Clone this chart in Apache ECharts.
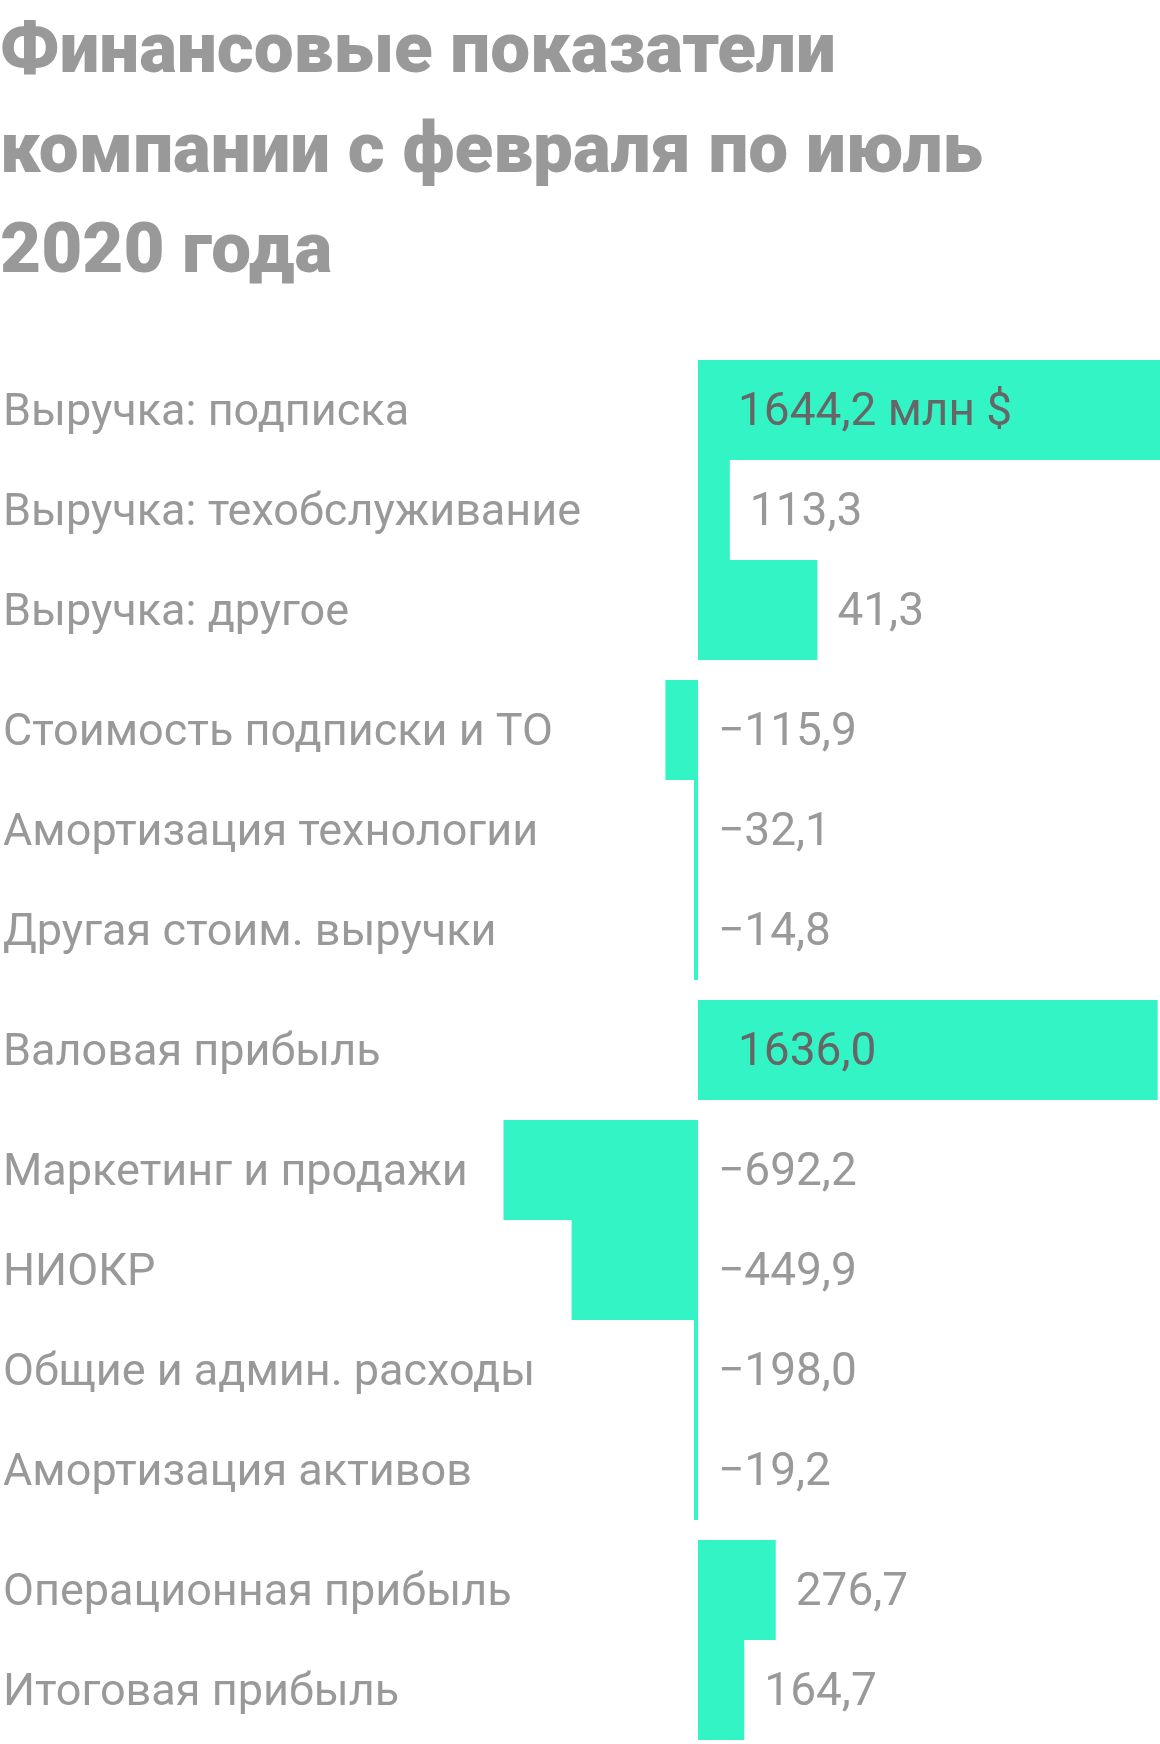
<!DOCTYPE html>
<html>
<head>
<meta charset="utf-8">
<script src="https://cdn.jsdelivr.net/npm/echarts@6/dist/echarts.min.js"></script>
<style>
  html, body { margin: 0; padding: 0; background: #fff; }
  #chart { width: 1160px; height: 1744px; }
</style>
</head>
<body>
<div id="chart"></div>
<script>
// rows, top to bottom
const categories = [
  'Выручка: подписка',
  'Выручка: техобслуживание',
  'Выручка: другое',
  'Стоимость подписки и ТО',
  'Амортизация технологии',
  'Другая стоим. выручки',
  'Валовая прибыль',
  'Маркетинг и продажи',
  'НИОКР',
  'Общие и админ. расходы',
  'Амортизация активов',
  'Операционная прибыль',
  'Итоговая прибыль'
];
// bar lengths as drawn in the picture (some bars do not match their printed numbers)
const barValues = [1644.2, 113.3, 425, -115.9, -14.2, -14.2, 1636.0, -692.2, -449.9, -14.2, -14.2, 276.7, 164.7];
// numbers printed next to the bars
const valueLabels = ['1644,2 млн $', '113,3', '41,3', '−115,9', '−32,1', '−14,8', '1636,0', '−692,2', '−449,9', '−198,0', '−19,2', '276,7', '164,7'];
// rows per block
const groupSizes = [3, 3, 1, 4, 2];

const ROW = 100, GAP = 20, TOP = 360;
const FONT = 'Roboto';

var grids = [], xAxes = [], yAxes = [], series = [];
var start = 0;
groupSizes.forEach(function (n, g) {
  var offset = start;
  grids.push({ left: 0, right: 0, top: TOP + start * ROW + g * GAP, height: n * ROW });
  xAxes.push({ gridIndex: g, type: 'value', min: -2466.3, max: 1644.2, show: false });
  yAxes.push({
    gridIndex: g,
    type: 'category',
    inverse: true,
    data: categories.slice(start, start + n),
    axisLine: { show: false, onZero: false },
    axisTick: { show: false },
    splitLine: { show: false },
    axisLabel: {
      inside: true, margin: -2,
      formatter: function (v) { return '{t|' + v + '}'; },
      rich: { t: { color: '#999', fontSize: 45, fontFamily: FONT, padding: [7, 0, 0, 0] } }
    }
  });
  series.push({
    type: 'bar',
    xAxisIndex: g,
    yAxisIndex: g,
    barWidth: '100%',
    itemStyle: { color: '#33f4c5' },
    label: {
      show: true,
      fontSize: 46,
      fontFamily: FONT,
      offset: [0, 3],
      formatter: function (p) { return valueLabels[offset + p.dataIndex]; }
    },
    data: barValues.slice(start, start + n).map(function (v) {
      var big = v > 1000;
      return {
        value: v,
        label: {
          position: big ? 'insideLeft' : 'right',
          distance: big ? 40 : 20,
          color: big ? '#666' : '#999'
        }
      };
    })
  });
  start += n;
});

var chart = echarts.init(document.getElementById('chart'));
chart.setOption({
  animation: false,
  title: {
    text: 'Финансовые показатели\nкомпании с февраля по июль\n2020 года',
    left: 0,
    top: 4,
    padding: 0,
    textStyle: { fontSize: 71, lineHeight: 100, fontWeight: 900, color: '#999', fontFamily: FONT }
  },
  grid: grids,
  xAxis: xAxes,
  yAxis: yAxes,
  series: series
});
</script>
</body>
</html>
